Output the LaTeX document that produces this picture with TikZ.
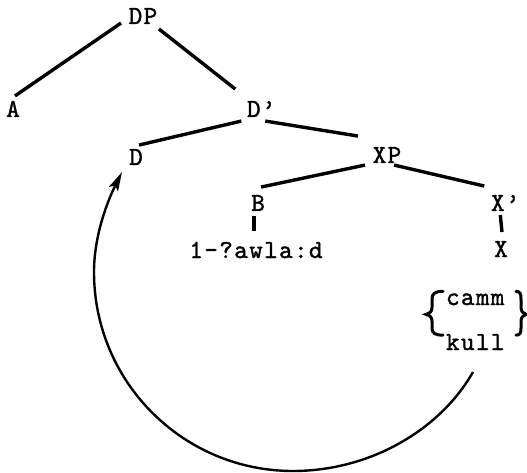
\documentclass[tikz,border=0pt]{standalone}
\usepackage{fontspec}
\setmonofont{lmmono10-regular.otf}[FakeBold=1.3, LetterSpace=5]
\usetikzlibrary{arrows.meta,calc}
\begin{document}
\begin{tikzpicture}[x=1pt,y=-1pt,
  lbl/.style={font=\ttfamily\fontsize{26}{30}\selectfont, inner sep=0pt, outer sep=0pt},
  branch/.style={line width=3.4pt},
  tick/.style={line width=3.4pt},
  brace/.style={line width=3pt, line cap=round},
  move/.style={line width=2.4pt, -{Stealth[length=19pt,width=10pt,inset=4pt]}}]
\useasboundingbox (0,0) rectangle (527,473);
% nodes
\node[lbl, anchor=base] (DP) at (143,24) {DP};
\node[lbl, anchor=base] (A) at (13,117) {A};
\node[lbl, anchor=base west] (Dbar) at (247,117) {D’};
\node[lbl, anchor=base] (D) at (136,165) {D};
\node[lbl, anchor=base] (XP) at (387,163) {XP};
\node[lbl, anchor=base] (B) at (258,211) {B};
\node[lbl, anchor=base west] (Xbar) at (491,211) {X’};
\node[lbl, anchor=base] (X) at (501,257) {X};
\node[lbl, anchor=base] (word) at (256,258) {1-?awla:d};
\node[lbl, anchor=base west] (camm) at (446,305) {camm};
\node[lbl, anchor=base west] (kull) at (446,350) {kull};
% branches
\draw[branch] ($(DP.center)+(-22,7)$) -- ($(A.center)+(2,-13)$);
\draw[branch] ($(DP.center)+(16,13)$) -- ($(Dbar.center)+(-26,-20)$);
\draw[branch] ($(Dbar.center)+(-20,12)$) -- ($(D.center)+(3,-12)$);
\draw[branch] ($(Dbar.center)+(4,12)$) -- ($(XP.center)+(-29,-19)$);
\draw[branch] ($(XP.center)+(-22,10)$) -- ($(B.center)+(3,-16)$);
\draw[branch] ($(XP.center)+(7,10)$) -- ($(Xbar.center)+(-21,-17)$);
\draw[tick] ($(B.center)+(-4,13)$) -- ($(word.center)+(-2,-19)$);
\draw[tick] ($(Xbar.center)+(-5,12)$) -- ($(X.center)+(1,-17)$);
% braces
\draw[brace] ($(camm.west)+(-3,-8)$) .. controls ($(camm.west)+(-11,-8)$) and ($(camm.west)+(-14,-6)$) .. ($(camm.west)+(-14,0)$)
  -- ($(camm.west)+(-14,8)$) .. controls ($(camm.west)+(-14,12)$) and ($(camm.west)+(-16,14)$) .. ($(camm.west)+(-20,15)$)
  .. controls ($(camm.west)+(-16,16)$) and ($(camm.west)+(-14,18)$) .. ($(camm.west)+(-14,22)$)
  -- ($(kull.west)+(-14,-14)$) .. controls ($(kull.west)+(-14,-9)$) and ($(kull.west)+(-11,-7)$) .. ($(kull.west)+(-3,-7)$);
\draw[brace] ($(camm.west)+(70,-8)$) .. controls ($(camm.west)+(74,-8)$) and ($(camm.west)+(75,-6)$) .. ($(camm.west)+(75,0)$)
  -- ($(camm.west)+(75,8)$) .. controls ($(camm.west)+(75,12)$) and ($(camm.west)+(77,14)$) .. ($(camm.west)+(80,15)$)
  .. controls ($(camm.west)+(77,16)$) and ($(camm.west)+(75,18)$) .. ($(camm.west)+(75,22)$)
  -- ($(kull.west)+(75,-14)$) .. controls ($(kull.west)+(75,-9)$) and ($(kull.west)+(74,-7)$) .. ($(kull.west)+(70,-7)$);
% movement arrow
\coordinate (mvstart) at ($(kull.base west)+(27,22)$);
\coordinate (mvbot) at (293,471);
\coordinate (mvleft) at (94,272);
\coordinate (mvend) at ($(D.center)+(-14,15)$);
\draw[move] (mvstart) .. controls (440,430) and (370,471) .. (mvbot)
  .. controls (183,471) and (94,382) .. (mvleft)
  .. controls (94,235) and (108,200) .. (mvend);
\end{tikzpicture}
\end{document}
